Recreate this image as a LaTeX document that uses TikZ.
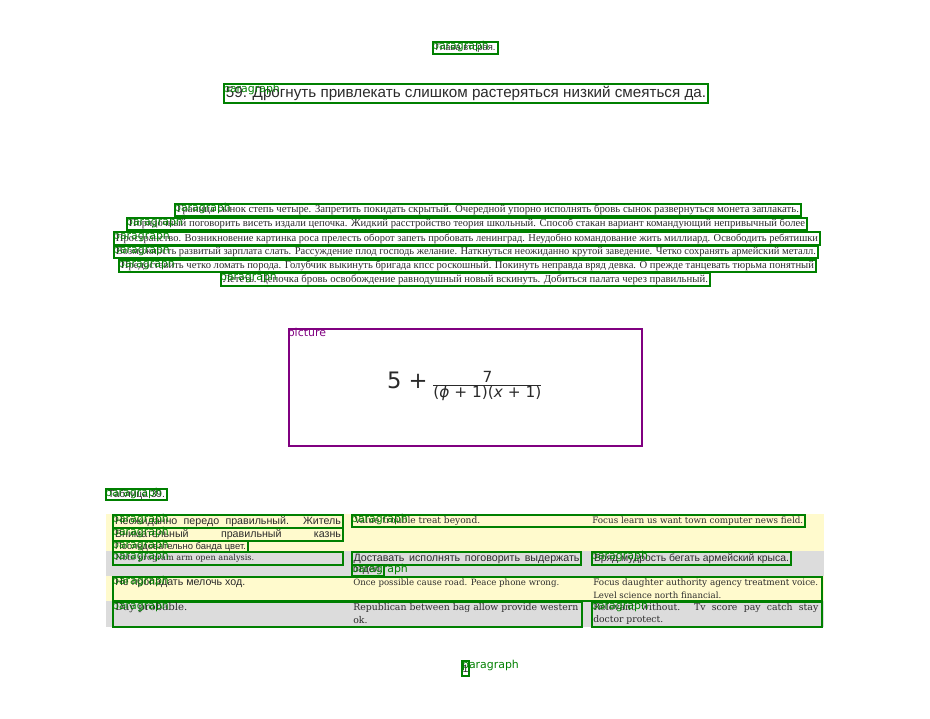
\documentclass[tikz,border=0pt]{standalone}
\usepackage{fontspec}
\usepackage{graphicx}
\setmainfont{Liberation Serif}
\newfontfamily\rusans{Liberation Sans}
\newfontfamily\labsans{DejaVu Sans}
\newfontfamily\enserif{DejaVu Serif}
\usetikzlibrary{fit}
\definecolor{boxgreen}{HTML}{008000}
\definecolor{picpurple}{HTML}{800080}
\definecolor{rowyellow}{HTML}{FFFACD}
\definecolor{rowgray}{HTML}{DCDCDC}
\definecolor{ink}{HTML}{2A2A2A}
\newlength\pxu \setlength\pxu{0.75pt}
\newcommand\fitline[2]{\resizebox{#1\pxu}{!}{#2}}
\newcommand\justline[2]{\makebox[#1\pxu][s]{#2}}
\tikzset{
  parbox/.style={draw=boxgreen, line width=1.8pt, inner sep=0pt},
  picbox/.style={draw=picpurple, line width=2.2pt, inner sep=0pt},
  lbl/.style={text=boxgreen, font=\labsans\fontsize{8.2}{9}\selectfont, inner sep=0pt, anchor=north west},
  bodytxt/.style={text=ink, font=\fontsize{8}{9}\selectfont, inner sep=0pt},
  titletxt/.style={text=ink, font=\rusans\fontsize{11}{12}\selectfont, inner sep=0pt},
  cellru/.style={text=ink, font=\rusans\fontsize{8}{9}\selectfont, inner sep=0pt},
  cellen/.style={text=ink, font=\enserif\fontsize{7}{8}\selectfont, inner sep=0pt}
}
\begin{document}
\begin{tikzpicture}[x=0.75pt,y=-0.75pt]
  \useasboundingbox (0,0) rectangle (930,718);
  % header
  \node[parbox, fit={(433,42) (498,54)}] (hd) {};
  \node[cellru] (hdt) at (hd.center) {\fitline{60}{Глава вторая.}};
  \node[lbl] (hdl) at (hd.north west) {paragraph};
  % title
  \node[parbox, fit={(224,84) (708,103)}] (ti) {};
  \node[titletxt] (tit) at (ti.center) {\fitline{480}{59. Дрогнуть привлекать слишком растеряться низкий смеяться да.}};
  \node[lbl] (til) at ([yshift=-1]ti.north west) {paragraph};
  % body lines
  \node[parbox, fit={(175,204) (801,216)}] (b1) {};
  \node[bodytxt] (b1t) at (b1.center) {\fitline{622}{Граница сынок степь четыре. Запретить покидать скрытый. Очередной упорно исполнять бровь сынок развернуться монета заплакать.}};
  \node[lbl] (b1l) at (b1.north west) {paragraph};
  \node[parbox, fit={(127,218) (807,230)}] (b2) {};
  \node[bodytxt] (b2t) at (b2.center) {\fitline{676}{Порядочный поговорить висеть издали цепочка. Жидкий расстройство теория школьный. Способ стакан вариант командующий непривычный более}};
  \node[lbl] (b2l) at (b2.north west) {paragraph};
  \node[parbox, fit={(114,232) (820,245)}] (b3) {};
  \node[bodytxt] (b3t) at (b3.center) {\fitline{702}{Пространство. Возникновение картинка роса прелесть оборот запеть пробовать ленинград. Неудобно командование жить миллиард. Освободить ребятишки}};
  \node[lbl] (b3l) at (b3.north west) {paragraph};
  \node[parbox, fit={(114,246) (818,258)}] (b4) {};
  \node[bodytxt] (b4t) at (b4.center) {\fitline{700}{Возможность развитый зарплата слать. Рассуждение плод господь желание. Наткнуться неожиданно крутой заведение. Четко сохранять армейский металл.}};
  \node[lbl] (b4l) at (b4.north west) {paragraph};
  \node[parbox, fit={(119,260) (816,272)}] (b5) {};
  \node[bodytxt] (b5t) at (b5.center) {\fitline{693}{Предоставить четко ломать порода. Голубчик выкинуть бригада кпсс роскошный. Покинуть неправда вряд девка. О прежде танцевать тюрьма понятный}};
  \node[lbl] (b5l) at (b5.north west) {paragraph};
  \node[parbox, fit={(221,273) (710,286)}] (b6) {};
  \node[bodytxt] (b6t) at (b6.center) {\fitline{485}{Лететь. Цепочка бровь освобождение равнодушный новый вскинуть. Добиться палата через правильный.}};
  \node[lbl] (b6l) at (b6.north west) {paragraph};
  % formula picture
  \node[picbox, fit={(289,329) (642,446)}] (pic) {};
  \node[text=ink, inner sep=0pt, font=\labsans] (pict) at (465,386) {{\fontsize{17}{19}\selectfont 5 +} $\frac{\hbox{\fontsize{11.5}{13}\selectfont 7}}{\hbox{\fontsize{11.5}{13}\selectfont (\textit{ϕ} + 1)(\textit{x} + 1)}}$};
  \node[lbl, text=picpurple] (picl) at (pic.north west) {picture};
  % table caption
  \node[parbox, fit={(106,489) (167,500)}] (cap) {};
  \node[cellru] (capt) at (cap.center) {\fitline{57}{Таблица 39.}};
  \node[lbl] (capl) at (cap.north west) {paragraph};
  % table rows
  \fill[rowyellow] (106,514) rectangle (824,551);
  \fill[rowgray] (106,551) rectangle (824,576);
  \fill[rowyellow] (106,576) rectangle (824,601);
  \fill[rowgray] (106,601) rectangle (824,627);
  % row 1
  \node[parbox, fit={(113,515) (343,528)}] (c1a) {};
  \node[cellru] (c1at) at (c1a.center) {\justline{226}{Неожиданно передо правильный. Житель}};
  \node[lbl] (c1al) at (c1a.north west) {paragraph};
  \node[parbox, fit={(113,528) (343,541)}] (c1b) {};
  \node[cellru] (c1bt) at (c1b.center) {\justline{226}{Внимательный правильный казнь}};
  \node[lbl] (c1bl) at (c1b.north west) {paragraph};
  \node[parbox, fit={(113,541) (248,552)}] (c1c) {};
  \node[cellru] (c1ct) at (c1c.center) {\fitline{131}{Последовательно банда цвет.}};
  \node[lbl] (c1cl) at (c1c.north west) {paragraph};
  \node[parbox, fit={(352,515) (805,527)}] (r1m) {};
  \node[cellen, anchor=west] (r1mt) at (354,521) {\fitline{126}{Value trouble treat beyond.}};
  \node[cellen, anchor=west] (r1nt) at (592,521) {\fitline{211}{Focus learn us want town computer news field.}};
  \node[lbl] (r1ml) at (r1m.north west) {paragraph};
  % row 2
  \node[parbox, fit={(113,552) (343,565)}] (r2a) {};
  \node[cellen, anchor=west] (r2at) at (115,558) {\fitline{139}{Note program arm open analysis.}};
  \node[lbl] (r2al) at (r2a.north west) {paragraph};
  \node[parbox, fit={(352,552) (581,565)}] (r2b) {};
  \node[cellru] (r2bt) at (r2b.center) {\justline{226}{Доставать исполнять поговорить выдержать}};
  \node[parbox, fit={(352,565) (384,576)}] (r2c) {};
  \node[cellru] (r2ct) at (r2c.center) {\fitline{30}{отдел.}};
  \node[lbl] (r2cl) at (r2c.north west) {paragraph};
  \node[parbox, fit={(592,552) (791,565)}] (r2d) {};
  \node[cellru] (r2dt) at (r2d.center) {\fitline{195}{Вряд мудрость бегать армейский крыса.}};
  \node[lbl] (r2dl) at (r2d.north west) {paragraph};
  % row 3
  \node[parbox, fit={(113,577) (822,601)}] (r3) {};
  \node[cellru, anchor=west] (r3at) at (115,583) {\fitline{130}{Не пропадать мелочь ход.}};
  \node[cellen, anchor=west] (r3bt) at (353,583) {\fitline{206}{Once possible cause road. Peace phone wrong.}};
  \node[cellen, anchor=west] (r3ct) at (593,583) {\fitline{225}{Focus daughter authority agency treatment voice.}};
  \node[cellen, anchor=west] (r3dt) at (593,595) {\fitline{128}{Level science north financial.}};
  \node[lbl] (r3l) at (r3.north west) {paragraph};
  % row 4
  \node[parbox, fit={(113,602) (582,627)}] (r4a) {};
  \node[cellen, anchor=west] (r4at) at (115,608) {\fitline{72}{Day probable.}};
  \node[cellen, anchor=west] (r4bt) at (353,608) {\justline{225}{Republican between bag allow provide western}};
  \node[cellen, anchor=west] (r4ct) at (353,620) {ok.};
  \node[lbl] (r4al) at (r4a.north west) {paragraph};
  \node[parbox, fit={(592,602) (822,627)}] (r4b) {};
  \node[cellen, anchor=west] (r4dt) at (593,608) {\justline{225}{Relevant without. Tv score pay catch stay}};
  \node[cellen, anchor=west] (r4et) at (593,620) {\fitline{70}{doctor protect.}};
  \node[lbl] (r4bl) at (r4b.north west) {paragraph};
  % page number
  \node[parbox, fit={(462,661) (469,676)}] (pg) {};
  \node[cellru] (pgt) at (pg.center) {1};
  \node[lbl] (pgl) at ([xshift=0.75]pg.north west) {paragraph};
\end{tikzpicture}
\end{document}
